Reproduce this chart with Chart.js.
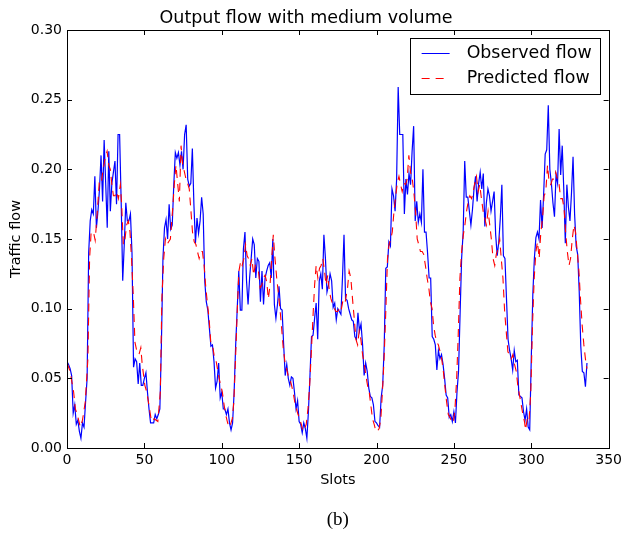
<!DOCTYPE html>
<html>
<head>
<meta charset="utf-8">
<title>Output flow with medium volume</title>
<script src="https://cdn.jsdelivr.net/npm/chart.js@4.4.1/dist/chart.umd.min.js"></script>
<style>
  html, body { margin: 0; padding: 0; background: #fff; }
  #wrap { width: 626px; height: 536px; }
</style>
</head>
<body>
<div id="wrap"><canvas id="flowChart" width="626" height="536"></canvas></div>
<script>
// axis ticks
const slotTicks = [0, 50, 100, 150, 200, 250, 300, 350];
const flowTicks = [0, 0.05, 0.10, 0.15, 0.20, 0.25, 0.30];

// observed flow, one value per slot starting at slot 0
const observedFlow = [
  0.062, 0.060, 0.057, 0.052, 0.025, 0.031, 0.017, 0.020, 0.012, 0.007,
  0.018, 0.015, 0.033, 0.050, 0.140, 0.163, 0.171, 0.168, 0.195, 0.158,
  0.170, 0.186, 0.210, 0.177, 0.221, 0.190, 0.158, 0.213, 0.170, 0.190,
  0.198, 0.206, 0.175, 0.225, 0.225, 0.177, 0.120, 0.146, 0.176, 0.163,
  0.163, 0.168, 0.140, 0.058, 0.064, 0.062, 0.046, 0.061, 0.045, 0.045,
  0.050, 0.054, 0.040, 0.028, 0.018, 0.018, 0.018, 0.024, 0.021, 0.024,
  0.028, 0.074, 0.136, 0.158, 0.164, 0.150, 0.175, 0.157, 0.160, 0.189,
  0.212, 0.208, 0.212, 0.203, 0.213, 0.200, 0.225, 0.232, 0.193, 0.188,
  0.190, 0.215, 0.175, 0.147, 0.165, 0.154, 0.163, 0.180, 0.168, 0.120,
  0.105, 0.099, 0.086, 0.073, 0.074, 0.062, 0.043, 0.048, 0.061, 0.036,
  0.040, 0.028, 0.028, 0.024, 0.028, 0.018, 0.013, 0.018, 0.040, 0.074,
  0.100, 0.127, 0.099, 0.099, 0.143, 0.155, 0.120, 0.103, 0.122, 0.136,
  0.150, 0.146, 0.122, 0.136, 0.134, 0.105, 0.127, 0.103, 0.122, 0.127,
  0.131, 0.133, 0.122, 0.150, 0.103, 0.093, 0.103, 0.116, 0.100, 0.099,
  0.074, 0.052, 0.060, 0.050, 0.045, 0.051, 0.050, 0.040, 0.028, 0.034,
  0.019, 0.017, 0.011, 0.018, 0.014, 0.007, 0.026, 0.052, 0.080, 0.081,
  0.093, 0.104, 0.078, 0.120, 0.125, 0.114, 0.153, 0.136, 0.112, 0.117,
  0.125, 0.120, 0.101, 0.104, 0.092, 0.100, 0.098, 0.096, 0.122, 0.153,
  0.107, 0.106, 0.100, 0.096, 0.092, 0.091, 0.080, 0.078, 0.097, 0.084,
  0.089, 0.074, 0.052, 0.061, 0.055, 0.043, 0.037, 0.036, 0.031, 0.019,
  0.018, 0.016, 0.015, 0.036, 0.045, 0.074, 0.129, 0.130, 0.148, 0.145,
  0.186, 0.181, 0.170, 0.193, 0.259, 0.225, 0.225, 0.225, 0.168, 0.193,
  0.182, 0.197, 0.189, 0.213, 0.231, 0.163, 0.177, 0.162, 0.168, 0.162,
  0.200, 0.155, 0.155, 0.140, 0.122, 0.122, 0.080, 0.078, 0.074, 0.056,
  0.070, 0.064, 0.067, 0.060, 0.050, 0.038, 0.036, 0.022, 0.024, 0.019,
  0.026, 0.018, 0.040, 0.055, 0.096, 0.136, 0.155, 0.206, 0.180, 0.180,
  0.170, 0.160, 0.171, 0.186, 0.195, 0.177, 0.190, 0.198, 0.186, 0.197,
  0.159, 0.176, 0.186, 0.181, 0.170, 0.177, 0.184, 0.153, 0.138, 0.148,
  0.165, 0.189, 0.138, 0.136, 0.107, 0.078, 0.070, 0.064, 0.056, 0.070,
  0.062, 0.063, 0.038, 0.037, 0.036, 0.026, 0.020, 0.028, 0.015, 0.013,
  0.064, 0.110, 0.136, 0.151, 0.155, 0.150, 0.178, 0.158, 0.182, 0.211,
  0.214, 0.246, 0.200, 0.190, 0.176, 0.166, 0.196, 0.190, 0.229, 0.196,
  0.217, 0.186, 0.147, 0.189, 0.173, 0.163, 0.183, 0.209, 0.168, 0.145,
  0.139, 0.112, 0.073, 0.055, 0.054, 0.044, 0.061
];

const predictedSlots = [
  0, 2, 4.3, 5.4, 6.4, 8.6, 10, 11.8, 13.5, 14.6, 15.6, 17.1, 18.2, 19.3, 20.8,
  22, 23.1, 24.6, 25.9, 27, 28, 28.9, 30, 31, 32.1, 33.2, 34.5, 35.3, 36.4, 37.5,
  38.5, 39.6, 40.7, 41.7, 42.8, 43.9, 45, 46.5, 47.7, 48.6, 50.3, 51.6, 52.9, 54.6, 56.3,
  58.7, 60.3, 61.3, 62.5, 63.6, 64.6, 65.7, 66.8, 68.3, 69.4, 70.4, 71.5, 72.6, 73.7, 74.8,
  75.9, 76.9, 77.9, 79, 80.1, 81.1, 82.2, 83.3, 84.3, 85.4, 86.5, 87.5, 88.6, 89.7, 90.8,
  91.8, 92.9, 94, 95, 96.1, 97.2, 98.3, 99.3, 100.4, 101.5, 102.5, 103.6, 104.6, 105.7, 106.8,
  107.8, 108.9, 110, 111.1, 112.2, 113.2, 114.3, 115.4,
  116.4, 117.3, 118.4, 119.5, 120.6, 121.6, 122.7, 123.7, 124.8, 125.9, 126.9, 128, 129.1, 130.1, 131.2,
  132.3, 133.3, 134.4, 135.5, 136.5, 137.6, 138.7, 139.7, 140.8, 141.9, 142.9, 144, 145.1, 146.1, 147.2,
  148.3, 149.3, 150.4, 151.4, 152.5, 153.6, 154.6, 155.7, 156.8, 157.8, 158.9, 160, 161, 162.1, 163.2,
  164.2, 165.3, 166.4, 167.4, 168.5, 169.6, 170.6, 171.7, 172.8, 173.8, 174.9, 176,
  177, 178.5, 179.8, 181.3, 182.3, 183.4, 184.5, 185.6, 186.7, 187.8, 188.8, 189.9, 191, 192.1, 193.1,
  194.2, 195.3, 196.3, 197.4, 198.5, 199.6, 200.6, 201.7, 202.8, 203.8, 204.9, 206, 207.1, 208.1, 209.2,
  210.2, 211.3, 212.4, 213.4, 214.5, 215.6, 216.6, 217.7, 218.8, 219.8, 220.9, 222, 223.1, 224.1, 225.2,
  226.3, 227.3, 228.4, 229.5, 230.5, 231.6, 232.7, 233.8, 234.8, 235.9,
  236.8, 237.9, 238.9, 240, 241.1, 242.1, 243.2, 244.3, 245.3, 246.4, 247.5, 248.6, 249.6, 250.7, 251.8,
  252.8, 253.9, 255, 256.1, 257.1, 258.2, 259.3, 260.3, 261.4, 262.5, 263.5, 264.6, 265.7, 266.7, 267.8,
  268.9, 269.9, 271, 272.1, 273.2, 274.2, 275.3, 276.4, 277.4, 278.5, 279.6, 280.6, 281.7, 282.8, 283.8,
  284.9, 286, 287.1, 288.1, 289.2, 290.3, 291.3, 292.4, 293.5, 294.6, 295.6,
  296.3, 297.4, 298.5, 299.7, 300.8, 301.9, 303, 304, 305.1, 306.2, 307.3, 308.3, 309.4, 310.5, 311.6,
  312.6, 313.7, 314.8, 315.8, 316.9, 318, 319, 320.1, 321.2, 322.2, 323.3, 324.4, 325.4, 326.5, 327.6,
  328.6, 329.7, 330.8, 331.8, 332.9, 334, 335, 336
];
const predictedFlow = [
  0.061, 0.055, 0.040, 0.028, 0.025, 0.015, 0.020, 0.033, 0.064, 0.136, 0.155, 0.155, 0.149, 0.165, 0.190,
  0.189, 0.198, 0.208, 0.213, 0.203, 0.200, 0.190, 0.181, 0.181, 0.184, 0.179, 0.189, 0.175, 0.146, 0.150,
  0.160, 0.163, 0.155, 0.136, 0.110, 0.076, 0.070, 0.067, 0.072, 0.060, 0.045, 0.040, 0.031, 0.019, 0.021,
  0.019, 0.040, 0.107, 0.136, 0.150, 0.146, 0.148, 0.150, 0.172, 0.190, 0.203, 0.190, 0.177, 0.217, 0.203,
  0.198, 0.193, 0.190, 0.186, 0.170, 0.155, 0.148, 0.146, 0.141, 0.136, 0.141, 0.141, 0.131, 0.115, 0.103,
  0.093, 0.076, 0.074, 0.067, 0.064, 0.057, 0.050, 0.045, 0.040, 0.031, 0.024, 0.019, 0.015, 0.017, 0.021,
  0.033, 0.064, 0.098, 0.127, 0.134, 0.131, 0.136, 0.146,
  0.138, 0.136, 0.131, 0.136, 0.124, 0.131, 0.129, 0.127, 0.115, 0.117, 0.122, 0.124, 0.119, 0.107, 0.117,
  0.136, 0.153, 0.136, 0.122, 0.112, 0.100, 0.086, 0.072, 0.062, 0.057, 0.052, 0.050, 0.045, 0.040, 0.033,
  0.028, 0.024, 0.021, 0.017, 0.012, 0.014, 0.017, 0.028, 0.045, 0.067, 0.093, 0.117, 0.131, 0.122, 0.129,
  0.131, 0.136, 0.127, 0.117, 0.124, 0.112, 0.107, 0.103, 0.100, 0.098, 0.098, 0.100,
  0.098, 0.107, 0.105, 0.115, 0.127, 0.122, 0.107, 0.093, 0.078, 0.074, 0.084, 0.078, 0.067, 0.060, 0.052,
  0.045, 0.040, 0.031, 0.021, 0.017, 0.012, 0.012, 0.014, 0.021, 0.040, 0.064, 0.098, 0.136, 0.146, 0.150,
  0.155, 0.170, 0.181, 0.190, 0.195, 0.189, 0.184, 0.190, 0.189, 0.193, 0.210, 0.198, 0.193, 0.184, 0.170,
  0.150, 0.146, 0.141, 0.141, 0.139, 0.131, 0.122, 0.115, 0.105, 0.100,
  0.089, 0.081, 0.076, 0.074, 0.069, 0.064, 0.055, 0.043, 0.033, 0.024, 0.022, 0.019, 0.018, 0.028, 0.050,
  0.081, 0.122, 0.141, 0.153, 0.160, 0.170, 0.177, 0.181, 0.179, 0.184, 0.190, 0.195, 0.184, 0.189, 0.179,
  0.170, 0.165, 0.160, 0.170, 0.160, 0.150, 0.136, 0.131, 0.139, 0.143, 0.150, 0.136, 0.122, 0.098, 0.084,
  0.069, 0.067, 0.064, 0.067, 0.060, 0.055, 0.045, 0.038, 0.031, 0.024, 0.019,
  0.013, 0.021, 0.019, 0.040, 0.088, 0.122, 0.141, 0.148, 0.136, 0.155, 0.165, 0.181, 0.184, 0.203, 0.190,
  0.189, 0.193, 0.193, 0.198, 0.193, 0.189, 0.179, 0.179, 0.172, 0.155, 0.141, 0.131, 0.136, 0.150, 0.160,
  0.155, 0.141, 0.127, 0.107, 0.088, 0.074, 0.064, 0.057
];

const captionText = '(b)';

Chart.defaults.font.family = '"DejaVu Sans", sans-serif';
Chart.defaults.color = '#000';

// box around the plot with inward ticks on all four sides (matplotlib classic look)
const frameTicks = {
  id: 'frameTicks',
  afterDatasetsDraw(chart) {
    const { ctx, chartArea: a, scales: { x, y } } = chart;
    const len = 5;
    ctx.save();
    ctx.strokeStyle = '#000';
    ctx.lineWidth = 1;
    ctx.beginPath();
    x.ticks.forEach(t => {
      const px = Math.round(x.getPixelForValue(t.value)) + 0.5;
      ctx.moveTo(px, a.bottom); ctx.lineTo(px, a.bottom - len);
      ctx.moveTo(px, a.top); ctx.lineTo(px, a.top + len);
    });
    y.ticks.forEach(t => {
      const py = Math.round(y.getPixelForValue(t.value)) + 0.5;
      ctx.moveTo(a.left, py); ctx.lineTo(a.left + len, py);
      ctx.moveTo(a.right, py); ctx.lineTo(a.right - len, py);
    });
    ctx.stroke();
    ctx.strokeRect(Math.round(a.left) + 0.5, Math.round(a.top) + 0.5,
      Math.round(a.right - a.left), Math.round(a.bottom - a.top));
    ctx.restore();
  }
};

// legend box in the upper right corner, inside the axes
const innerLegend = {
  id: 'innerLegend',
  afterDraw(chart) {
    const { ctx, chartArea: a } = chart;
    const w = 190, h = 56;
    const left = a.right - 9 - w, top = a.top + 8;
    ctx.save();
    ctx.fillStyle = '#fff';
    ctx.fillRect(left, top, w, h);
    ctx.strokeStyle = '#000';
    ctx.lineWidth = 1;
    ctx.strokeRect(Math.round(left) + 0.5, Math.round(top) + 0.5, w, h);
    ctx.font = '17.4px "DejaVu Sans", sans-serif';
    ctx.textBaseline = 'middle';
    ctx.fillStyle = '#000';
    chart.data.datasets.forEach((ds, i) => {
      const ry = Math.round(top + 15 + i * 25) + 0.5;
      ctx.strokeStyle = ds.borderColor;
      ctx.lineWidth = 1;
      ctx.setLineDash(ds.borderDash || []);
      ctx.beginPath();
      ctx.moveTo(left + 12, ry);
      ctx.lineTo(left + 40, ry);
      ctx.stroke();
      ctx.setLineDash([]);
      ctx.fillText(ds.label, left + 57, ry);
    });
    ctx.restore();
  }
};

// the figure caption under the axes
const caption = {
  id: 'caption',
  afterDraw(chart) {
    const { ctx, chartArea: a } = chart;
    ctx.save();
    ctx.font = '19px "Liberation Serif", serif';
    ctx.fillStyle = '#000';
    ctx.textAlign = 'center';
    ctx.textBaseline = 'middle';
    ctx.fillText(captionText, (a.left + a.right) / 2, 520);
    ctx.restore();
  }
};

const ctx = document.getElementById('flowChart').getContext('2d');
const flowChart = new Chart(ctx, {
  type: 'line',
  data: {
    datasets: [{
      label: 'Observed flow',
      data: observedFlow.map((v, i) => ({ x: i, y: v })),
      borderColor: '#0000ff',
      borderWidth: 1.2,
      pointRadius: 0,
      tension: 0,
      order: 1
    }, {
      label: 'Predicted flow',
      data: predictedSlots.map((s, i) => ({ x: s, y: predictedFlow[i] })),
      borderColor: '#ff0000',
      borderWidth: 1.1,
      borderDash: [8, 6],
      pointRadius: 0,
      tension: 0,
      order: 0
    }]
  },
  options: {
    responsive: false,
    animation: false,
    layout: { padding: { left: 0, right: 14, top: 0, bottom: 0 } },
    plugins: {
      legend: { display: false },
      tooltip: { enabled: false },
      title: {
        display: true,
        text: 'Output flow with medium volume',
        font: { size: 17.5, weight: 'normal' },
        color: '#000',
        padding: { top: 7.5, bottom: 1.5 }
      }
    },
    scales: {
      x: {
        type: 'linear',
        min: 0,
        max: 350,
        afterBuildTicks: s => { s.ticks = slotTicks.map(v => ({ value: v })); },
        afterFit: s => { s.height = 88; },
        ticks: { font: { size: 14 }, padding: 4, maxRotation: 0, color: '#000' },
        grid: { display: false, drawTicks: false },
        border: { display: false },
        title: {
          display: true,
          text: 'Slots',
          font: { size: 14.5 },
          color: '#000',
          padding: { top: 0, bottom: 47 }
        }
      },
      y: {
        type: 'linear',
        min: 0,
        max: 0.3,
        afterBuildTicks: s => { s.ticks = flowTicks.map(v => ({ value: v })); },
        afterFit: s => { s.width = 67; },
        ticks: {
          font: { size: 14 },
          padding: 5,
          color: '#000',
          callback: v => v.toFixed(2)
        },
        grid: { display: false, drawTicks: false },
        border: { display: false },
        title: {
          display: true,
          text: 'Traffic flow',
          font: { size: 14.5 },
          color: '#000',
          padding: { top: 7.8, bottom: 0 }
        }
      }
    }
  },
  plugins: [frameTicks, innerLegend, caption]
});
</script>
</body>
</html>
